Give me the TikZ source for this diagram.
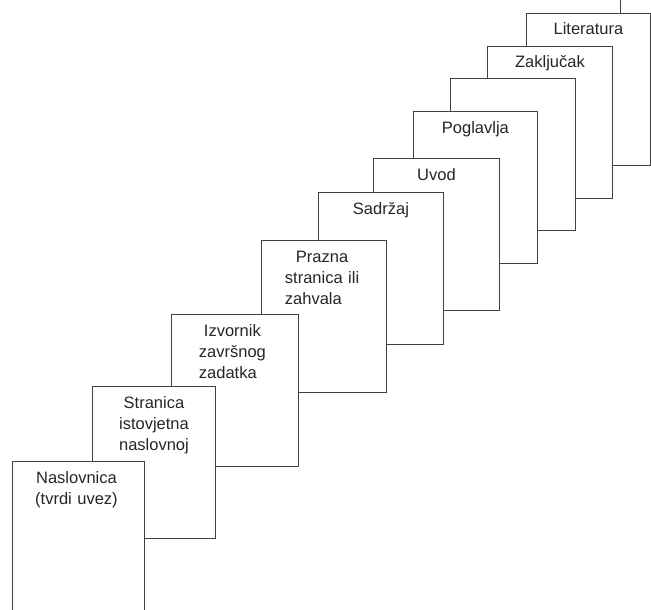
\documentclass[tikz,border=0pt]{standalone}
\usepackage{fontspec}
\setmainfont{Liberation Sans}
\usetikzlibrary{calc}

\tikzset{
  page/.style={draw=black!75, line width=0.9pt, fill=white, anchor=north west,
    minimum width=#1, minimum height=152pt, inner sep=0pt},
  page/.default=125pt,
  pagelabel/.style={anchor=base, text width=#1, align=center, inner sep=0pt,
    font=\fontsize{16.5}{21}\selectfont, text=black!85},
  pagelabel/.default=110pt,
}

\begin{document}
\begin{tikzpicture}[x=1pt,y=1pt]
  \clip (0,0) rectangle (651,-610);
  % pages, back to front
  \node[page] (p0) at (620,132) {};
  \node[page=124pt] (p10) at (526,-13) {};
  \node[page] (p9) at (487,-46) {};
  \node[page] (p8) at (450,-78) {};
  \node[page=124pt] (p7) at (413,-111) {};
  \node[page=126pt] (p6) at (373,-158) {};
  \node[page] (p5) at (318,-192) {};
  \node[page] (p4) at (261,-240) {};
  \node[page=127pt] (p3) at (171,-314) {};
  \node[page=123pt] (p2) at (92,-386) {};
  \node[page=132pt] (p1) at (12,-461) {};
  %
  \node[pagelabel] (t10) at ($(p10.north)+(0,-22)$) {Literatura};
  \node[pagelabel] (t9) at ($(p9.north)+(0,-22)$) {Zaključak};
  \node[pagelabel] (t7) at ($(p7.north)+(0,-22)$) {Poglavlja};
  \node[pagelabel] (t6) at ($(p6.north)+(0,-22)$) {Uvod};
  \node[pagelabel] (t5) at ($(p5.north)+(0,-22)$) {Sadržaj};
  \node[pagelabel=84pt, align=left] (t4) at ($(p4.north)+(3,-22)$)
    {\hspace*{11pt}Prazna\\stranica ili\\zahvala};
  \node[pagelabel=72pt, align=left] (t3) at ($(p3.north)+(0,-22)$)
    {\hspace*{5pt}Izvornik\\završnog\\zadatka};
  \node[pagelabel] (t2) at ($(p2.north)+(0,-22)$) {Stranica\\istovjetna\\naslovnoj};
  \node[pagelabel] (t1) at ($(p1.north)+(-2,-22)$) {Naslovnica\\(tvrdi uvez)};
\end{tikzpicture}
\end{document}
